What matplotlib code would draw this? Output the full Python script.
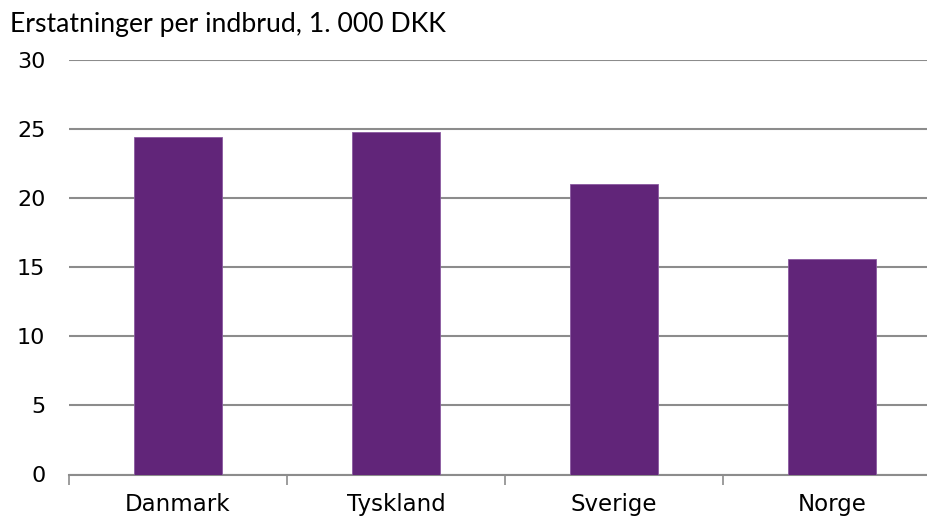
import numpy as np
import matplotlib
matplotlib.use("Agg")
import matplotlib.pyplot as plt

countries = ["Danmark", "Tyskland", "Sverige", "Norge"]
values = [24.4, 24.8, 21.0, 15.6]
title = "Erstatninger per indbrud, 1. 000 DKK"

plt.rcParams['font.family'] = ['DejaVu Sans']

fig = plt.figure(figsize=(9.28, 5.19), dpi=100)
# axes runs a little past the right edge, as in the original
ax = fig.add_axes([69 / 928, (519 - 474.5) / 519, 872 / 928, 414.5 / 519])

x = np.arange(len(countries))
ax.bar(x, values, width=0.40, color="#612579", edgecolor="#8a5aa0", linewidth=0.6, zorder=3)

ax.set_xlim(-0.5, len(countries) - 0.5)
ax.set_ylim(0, 30)
ax.set_yticks(range(0, 31, 5))
ax.yaxis.grid(True, color="#8c8c8c", linewidth=1.5, zorder=0)
ax.tick_params(axis="y", length=0, pad=17, labelsize=16, colors="black")

ax.set_xticks(x)
ax.set_xticklabels(countries)
ax.set_xticks(np.arange(-0.5, len(countries), 1.0), minor=True)
ax.tick_params(axis="x", which="major", length=0, pad=13.5, labelsize=16.5)
ax.tick_params(axis="x", which="minor", length=7, width=1.2, color="#8c8c8c")

for side in ["top", "right", "left"]:
    ax.spines[side].set_visible(False)
ax.spines["bottom"].set_color("#8c8c8c")
ax.spines["bottom"].set_linewidth(1.5)

fig.text(10 / 928, 1 - 32 / 519, title, fontsize=19.2, family=["Lato", "DejaVu Sans"],
         ha="left", va="baseline")

fig.savefig("out.png", dpi=100)
